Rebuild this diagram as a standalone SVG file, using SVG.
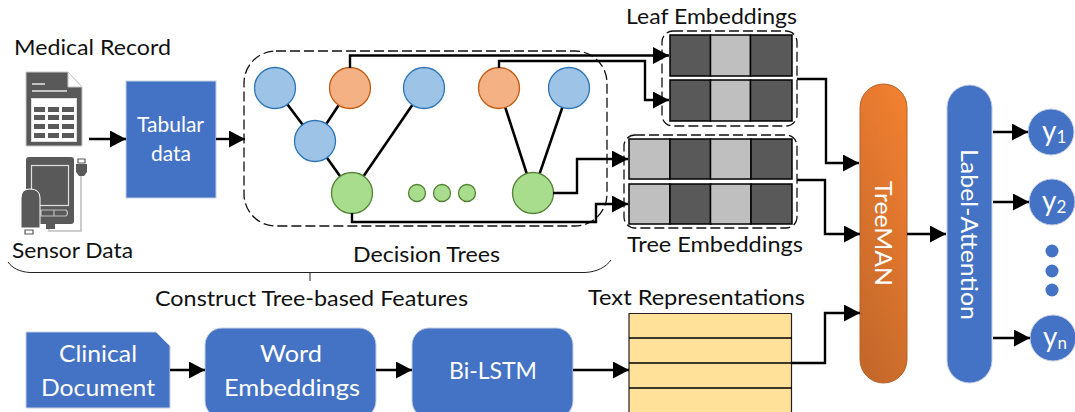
<svg xmlns="http://www.w3.org/2000/svg" width="1075" height="412" viewBox="0 0 1075 412">
<style>
text{font-family:Lato,"Open Sans","Liberation Sans",sans-serif;font-size:22px;fill:#111}
.w{fill:#fff}
.big{font-size:24px}
.blue{fill:#4472C4;stroke:#c4cfe4;stroke-width:1}
.b{fill:#9DC3E6;stroke:#2E75B6;stroke-width:1.3}
.o{fill:#F4B183;stroke:#C55A11;stroke-width:1.3}
.g{fill:#A9DD8E;stroke:#548235;stroke-width:1.3}
.dash{fill:none;stroke:#111;stroke-width:1.3;stroke-dasharray:10 4}
.d{fill:#595959;stroke:#000;stroke-width:1.5}
.l{fill:#BFBFBF;stroke:#000;stroke-width:1.5}
.a{fill:none;stroke:#000;stroke-width:2.4;marker-end:url(#h)}
.tree{fill:none;stroke:#000;stroke-width:2.6}
.ic{fill:#595959}
.icl{fill:none;stroke:#bfbfbf;stroke-width:1.6}
.cell{fill:#595959}
.yl{font-size:28px}
.ys{font-size:17px}
</style>
<defs>
<marker id="h" markerUnits="userSpaceOnUse" markerWidth="16" markerHeight="17" refX="16" refY="8.5" orient="auto"><path d="M0,0L16,8.5L0,17z" fill="#000"/></marker>
<linearGradient id="tm" x1="0.7" y1="0" x2="0.3" y2="1"><stop offset="0" stop-color="#F07F30"/><stop offset="1" stop-color="#C4682A"/></linearGradient>
</defs>

<g id="medical-record-icon">
<path d="M26,72H68L82,87V146H26z" fill="#595959" stroke="#c8c8c8" stroke-width="1"/>
<path d="M68,72V87H82z" fill="#fff" stroke="#c8c8c8" stroke-width="1"/>
<path d="M32,84H45M32,91H67" stroke="#e8e8e8" stroke-width="1.5" fill="none"/>
<rect x="31.500" y="98.500" width="45" height="43" fill="#fff" stroke="#ddd"/>
<g class="cell">
<rect x="34" y="107" width="11" height="5"/><rect x="48" y="107" width="11" height="5"/><rect x="62" y="107" width="12" height="5"/>
<rect x="34" y="115" width="11" height="5"/><rect x="48" y="115" width="11" height="5"/><rect x="62" y="115" width="12" height="5"/>
<rect x="34" y="124" width="11" height="5"/><rect x="48" y="124" width="11" height="5"/><rect x="62" y="124" width="12" height="5"/>
<rect x="34" y="133" width="11" height="5"/><rect x="48" y="133" width="11" height="5"/><rect x="62" y="133" width="12" height="5"/>
</g>
</g>

<g id="sensor-icon">
<rect x="26" y="157" width="48" height="67" rx="3" class="ic"/>
<rect x="31.500" y="165.500" width="37" height="40" fill="#595959" stroke="#e0e0e0" stroke-width="1.2"/>
<path d="M41,210H54V216H41zM54,210H66Q69,213 66,216H54" fill="none" stroke="#bfbfbf" stroke-width="1.2"/>
<path d="M49,224V231H81V170" class="icl"/>
<path d="M76,164H87V172L84,176H79L76,172z" class="ic"/>
<path d="M78,159H85V163H78z" fill="none" stroke="#595959" stroke-width="1.2"/>
<path d="M21,228V198Q21,189 30,189Q40,189 40,198V228z" class="ic" stroke="#fff" stroke-width="1"/>
<path d="M46,224H55V229H46z" class="ic"/>
<path d="M25,230H33V234H25z" fill="none" stroke="#595959" stroke-width="1.2"/>
</g>

<g id="tabular-data">
<rect x="126" y="81" width="90" height="117" class="blue"/>
<text class="w" x="137" y="132" textLength="67" lengthAdjust="spacingAndGlyphs">Tabular</text>
<text class="w" x="151" y="161" textLength="40" lengthAdjust="spacingAndGlyphs">data</text>
</g>

<g id="decision-trees">
<rect x="244" y="51" width="363" height="175" rx="32" class="dash"/>
<path class="tree" d="M275,88L315,141L350,88M315,141L352,193L424,88M499,88L533,193L569,88"/>
<circle cx="275" cy="88" r="20.500" class="b"/>
<circle cx="350" cy="88" r="20.500" class="o"/>
<circle cx="424" cy="88" r="20.500" class="b"/>
<circle cx="499" cy="88" r="20.500" class="o"/>
<circle cx="569" cy="88" r="20.500" class="b"/>
<circle cx="315" cy="141" r="20.500" class="b"/>
<circle cx="352" cy="193" r="20.500" class="g"/>
<circle cx="533" cy="193" r="20.500" class="g"/>
<circle cx="417" cy="193" r="8.500" class="g"/>
<circle cx="442" cy="193" r="8.500" class="g"/>
<circle cx="467" cy="193" r="8.500" class="g"/>
</g>

<g id="leaf-embeddings">
<rect x="662" y="31" width="135" height="95" rx="11" class="dash"/>
<rect x="670" y="35" width="40.500" height="41" class="d"/><rect x="710.500" y="35" width="40" height="41" class="l"/><rect x="750.500" y="35" width="41.500" height="41" class="d"/>
<rect x="670" y="80" width="40.500" height="41" class="d"/><rect x="710.500" y="80" width="40" height="41" class="l"/><rect x="750.500" y="80" width="41.500" height="41" class="d"/>
</g>

<g id="tree-embeddings">
<rect x="624" y="135" width="173" height="93" rx="11" class="dash"/>
<rect x="629" y="139" width="41" height="40" class="l"/><rect x="670" y="139" width="40.500" height="40" class="d"/><rect x="710.500" y="139" width="40.500" height="40" class="l"/><rect x="751" y="139" width="41" height="40" class="d"/>
<rect x="629" y="184" width="41" height="40" class="l"/><rect x="670" y="184" width="40.500" height="40" class="d"/><rect x="710.500" y="184" width="40.500" height="40" class="l"/><rect x="751" y="184" width="41" height="40" class="d"/>
</g>

<g id="text-representations">
<path d="M629,412V313.500H791.500V412" fill="#FFE199" stroke="none"/>
<path d="M629,412V313.500H791.500V412" fill="none" stroke="#222" stroke-width="1.2"/>
<path d="M629,338H792M629,363H792M629,388H792" stroke="#000" stroke-width="1.500" fill="none"/>
</g>

<g id="clinical-document">
<path d="M26,332H156L170,346V408H26z" class="blue"/>
<text class="w big" x="59" y="362" textLength="78" lengthAdjust="spacingAndGlyphs">Clinical</text>
<text class="w big" x="41" y="396" textLength="114" lengthAdjust="spacingAndGlyphs">Document</text>
</g>
<g id="word-embeddings">
<rect x="205" y="328" width="171" height="90" rx="17" class="blue"/>
<text class="w big" x="260" y="362" textLength="62" lengthAdjust="spacingAndGlyphs">Word</text>
<text class="w big" x="224" y="396" textLength="136" lengthAdjust="spacingAndGlyphs">Embeddings</text>
</g>
<g id="bi-lstm">
<rect x="412" y="328" width="161" height="90" rx="17" class="blue"/>
<text class="w big" x="449" y="379" textLength="88" lengthAdjust="spacingAndGlyphs">Bi-LSTM</text>
</g>

<g id="treeman">
<rect x="860" y="84" width="47" height="299" rx="23.500" fill="url(#tm)" stroke="#b5622a" stroke-width="1"/>
<text class="w big" transform="translate(875,181) rotate(90)" textLength="105" lengthAdjust="spacingAndGlyphs">TreeMAN</text>
</g>
<g id="label-attention">
<rect x="947" y="85" width="45" height="298" rx="22.500" class="blue"/>
<text class="w big" transform="translate(961,149) rotate(90)" textLength="171" lengthAdjust="spacingAndGlyphs">Label-Attention</text>
</g>

<g id="y1"><circle cx="1051" cy="132" r="23" class="blue"/><text class="w yl" x="1042" y="141">y<tspan class="ys" dy="2">1</tspan></text></g>
<g id="y2"><circle cx="1052" cy="202" r="23" class="blue"/><text class="w yl" x="1042" y="211">y<tspan class="ys" dy="2">2</tspan></text></g>
<g id="ellipsis"><circle cx="1052" cy="251" r="6.500" fill="#4472C4"/><circle cx="1052" cy="271" r="6.500" fill="#4472C4"/><circle cx="1052" cy="290" r="6.500" fill="#4472C4"/></g>
<g id="yn"><circle cx="1053" cy="338" r="23" class="blue"/><text class="w yl" x="1043" y="347">y<tspan class="ys" dy="2">n</tspan></text></g>

<g id="connectors">
<path class="a" d="M89,139H126"/>
<path class="a" d="M216,139H245"/>
<path class="a" d="M350,68V55.500H669"/>
<path class="a" d="M499,68V61H645V100H669"/>
<path class="a" d="M553,193H577V159H628"/>
<path class="a" d="M352,213V222H596V204H628"/>
<path class="a" d="M797,79H826V163H859"/>
<path class="a" d="M797,180H825V234H860"/>
<path class="a" d="M792,363H825V313H860"/>
<path class="a" d="M907,234H946"/>
<path class="a" d="M993,132H1028"/>
<path class="a" d="M993,202H1029"/>
<path class="a" d="M993,338H1030"/>
<path class="a" d="M170,370H205"/>
<path class="a" d="M376,370H412"/>
<path class="a" d="M573,370H629"/>
<path d="M8,262C12,268 20,272 30,272.500H585C597,272 606,267 611,260M310,272.500V281" fill="none" stroke="#222" stroke-width="1"/>
</g>

<g id="labels">
<text x="14" y="55" textLength="157" lengthAdjust="spacingAndGlyphs">Medical Record</text>
<text x="12" y="258" textLength="121" lengthAdjust="spacingAndGlyphs">Sensor Data</text>
<text x="353" y="262" textLength="147" lengthAdjust="spacingAndGlyphs">Decision Trees</text>
<text x="626" y="24" textLength="171" lengthAdjust="spacingAndGlyphs">Leaf Embeddings</text>
<text x="627" y="252" textLength="176" lengthAdjust="spacingAndGlyphs">Tree Embeddings</text>
<text x="155" y="306" textLength="313" lengthAdjust="spacingAndGlyphs">Construct Tree-based Features</text>
<text x="588" y="305" textLength="217" lengthAdjust="spacingAndGlyphs">Text Representations</text>
</g>
</svg>
